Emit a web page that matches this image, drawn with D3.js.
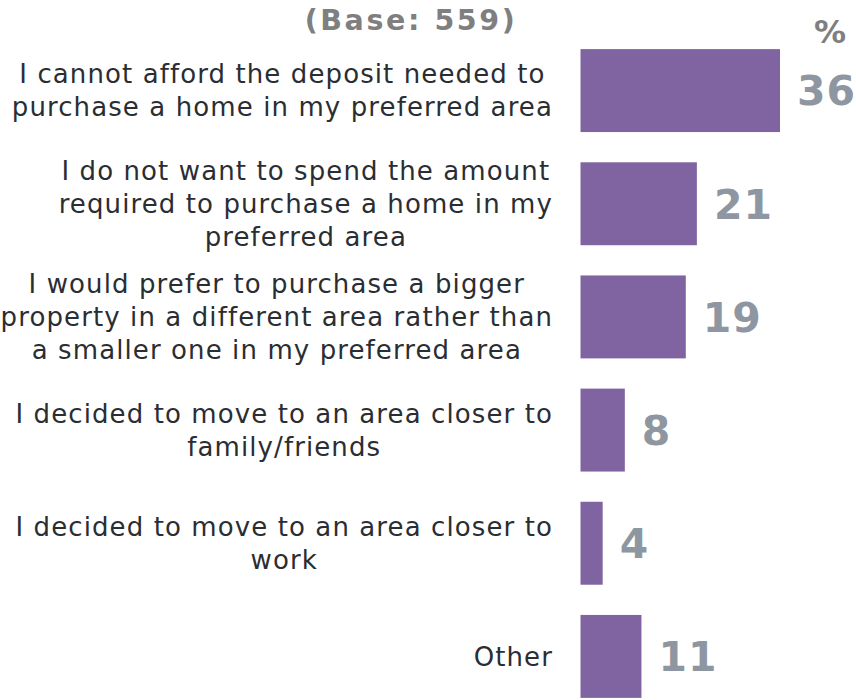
<!DOCTYPE html>
<html>
<head>
<meta charset="utf-8">
<script src="https://cdn.jsdelivr.net/npm/d3@7"></script>
<style>
  html, body { margin: 0; padding: 0; background: #fff; }
  svg { display: block; font-family: "DejaVu Sans", Verdana, sans-serif; }
</style>
</head>
<body>
<svg width="856" height="700"></svg>
<script>
// chart data
const categories = [
  ["I cannot afford the deposit needed to", "purchase a home in my preferred area"],
  ["I do not want to spend the amount", "required to purchase a home in my", "preferred area"],
  ["I would prefer to purchase a bigger", "property in a different area rather than", "a smaller one in my preferred area"],
  ["I decided to move to an area closer to", "family/friends"],
  ["I decided to move to an area closer to", "work"],
  ["Other"]
];
const values = [36, 21, 19, 8, 4, 11];
const title = "(Base: 559)";
const unitLabel = "%";

var svg = d3.select("svg"),
    width = +svg.attr("width"),
    height = +svg.attr("height"),
    barLeft = 580.5,
    labelRight = 553,
    lineHeight = 33;

var x = d3.scaleLinear()
    .domain([0, 36])
    .range([0, 199.5]);

var y = d3.scaleBand()
    .domain(d3.range(categories.length))
    .range([34, 713])
    .paddingInner(0.267)
    .paddingOuter(0.1335);

// title + unit
svg.append("text")
    .attr("x", 411)
    .attr("y", 30)
    .attr("text-anchor", "middle")
    .attr("font-size", 28.5)
    .attr("font-weight", "bold")
    .attr("letter-spacing", "2.6px")
    .attr("fill", "#7f7f7f")
    .text(title);

svg.append("text")
    .attr("x", 830)
    .attr("y", 43)
    .attr("text-anchor", "middle")
    .attr("font-size", 32)
    .attr("font-weight", "bold")
    .attr("fill", "#7f7f7f")
    .text(unitLabel);

// bars
svg.append("g")
    .selectAll("rect")
    .data(values)
    .enter().append("rect")
    .attr("x", barLeft)
    .attr("y", function(d, i) { return y(i); })
    .attr("width", function(d) { return x(d); })
    .attr("height", y.bandwidth())
    .attr("fill", "#8064a2");

// value labels
svg.append("g")
    .selectAll("text")
    .data(values)
    .enter().append("text")
    .attr("x", function(d) { return barLeft + x(d) + 17; })
    .attr("y", function(d, i) { return y(i) + y.bandwidth() / 2; })
    .attr("dy", "0.36em")
    .attr("font-size", 41)
    .attr("font-weight", "bold")
    .attr("letter-spacing", "1px")
    .attr("fill", "#8e97a1")
    .text(function(d) { return d; });

// category labels: block right aligned, lines centred inside block
var labels = svg.append("g")
    .selectAll("g")
    .data(categories)
    .enter().append("g");

labels.each(function(lines, i) {
    var g = d3.select(this);
    var cy = y(i) + y.bandwidth() / 2;
    var top = cy - (lines.length - 1) * lineHeight / 2;
    var t = g.selectAll("text")
        .data(lines)
        .enter().append("text")
        .attr("y", function(d, j) { return top + j * lineHeight; })
        .attr("dy", "0.36em")
        .attr("text-anchor", "middle")
        .attr("font-size", 26)
        .attr("letter-spacing", "1.1px")
        .attr("fill", "#2a2e33")
        .text(function(d) { return d; });
    var maxW = d3.max(t.nodes(), function(n) { return n.getComputedTextLength(); });
    t.attr("x", labelRight - maxW / 2);
});
</script>
</body>
</html>
